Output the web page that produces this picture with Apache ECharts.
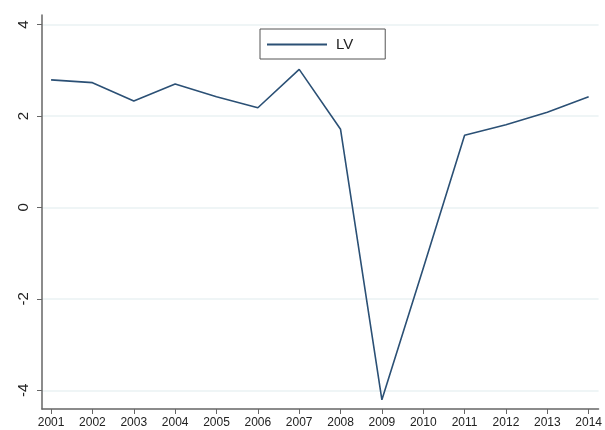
<!DOCTYPE html>
<html>
<head>
<meta charset="utf-8">
<script src="https://cdn.jsdelivr.net/npm/echarts@6/dist/echarts.min.js"></script>
<style>
  html, body { margin: 0; padding: 0; background: #fff; }
  #chart { width: 605px; height: 430px; }
</style>
</head>
<body>
<div id="chart"></div>
<script>
const years = [2001, 2002, 2003, 2004, 2005, 2006, 2007, 2008, 2009, 2010, 2011, 2012, 2013, 2014];
const lv = [2.79, 2.73, 2.33, 2.70, 2.42, 2.18, 3.02, 1.71, -4.21, -1.33, 1.58, 1.81, 2.08, 2.42];
const yTicks = [-4, -2, 0, 2, 4];

const chart = echarts.init(document.getElementById("chart"));

const option = {
  animation: false,
  grid: { left: 42, right: 2, top: 15, bottom: 21 },
  legend: {
    left: 260,
    top: 29,
    padding: [8, 32, 7, 7],
    borderColor: "#555",
    borderWidth: 1,
    itemWidth: 60,
    itemHeight: 14,
    itemGap: 0,
    textStyle: { fontFamily: "Liberation Sans", fontSize: 15, color: "#222", padding: [0, 0, 0, 4] },
    data: [{ name: "LV", icon: "path://M0,0 L60,0 L60,2 L0,2 Z", itemStyle: { color: "#2b5075" } }],
  },
  // x轴: 年份
  xAxis: {
    type: "value",
    min: 2000.78,
    max: 2014.24,
    axisLine: { show: true, onZero: false, lineStyle: { color: "#666", width: 1.5 } },
    axisTick: { show: true, length: 5, customValues: years, lineStyle: { color: "#666" } },
    splitLine: { show: false },
    axisLabel: {
      customValues: years,
      formatter: (v) => String(v),
      margin: 8,
      fontFamily: "Liberation Sans",
      fontSize: 12,
      color: "#222",
    },
  },
  // y轴
  yAxis: {
    type: "value",
    min: -4.41,
    max: 4.21,
    axisLine: { show: true, onZero: false, lineStyle: { color: "#666", width: 1.5 } },
    axisTick: { show: true, length: 5, customValues: yTicks, lineStyle: { color: "#666" } },
    splitLine: { show: true, lineStyle: { color: "#eaf2f3", width: 1.5 } },
    axisLabel: {
      customValues: yTicks,
      rotate: 90,
      margin: 11,
      fontFamily: "Liberation Sans",
      fontSize: 15,
      color: "#222",
    },
  },
  series: [
    {
      name: "LV",
      type: "line",
      symbol: "none",
      data: years.map((y, i) => [y, lv[i]]),
      lineStyle: { color: "#2b5075", width: 1.6 },
      itemStyle: { color: "#2b5075" },
    },
  ],
};

chart.setOption(option);
</script>
</body>
</html>
